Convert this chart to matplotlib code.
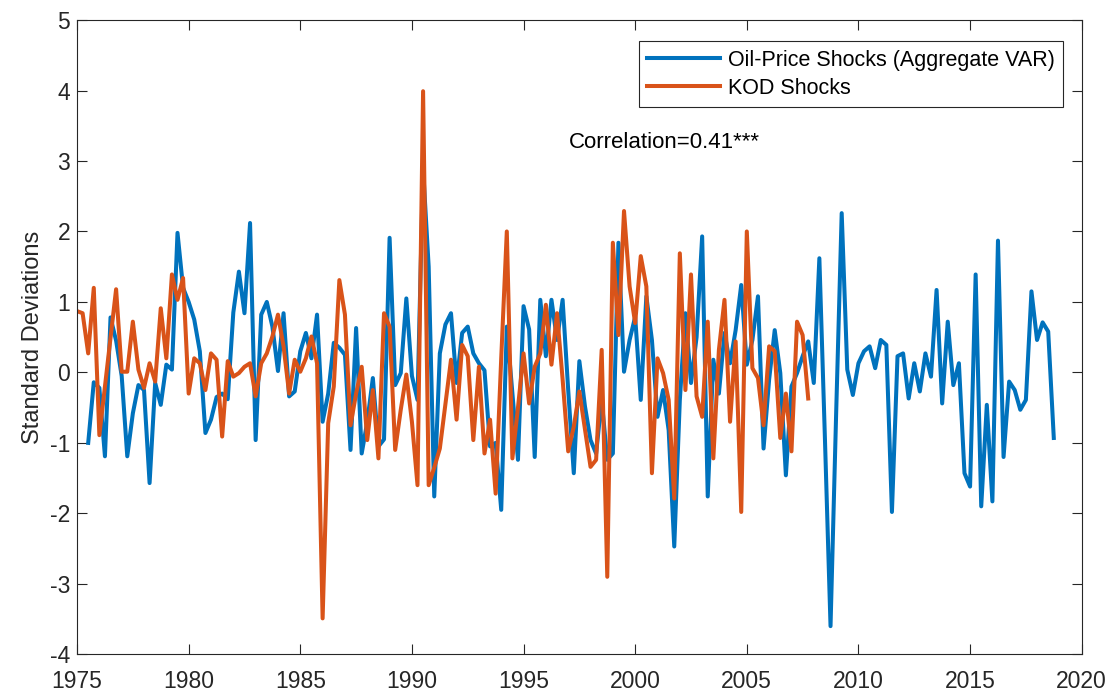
import numpy as np
import matplotlib
matplotlib.use("Agg")
import matplotlib.pyplot as plt

plt.rcParams['font.family'] = ['Liberation Sans', 'DejaVu Sans']
plt.rcParams['axes.unicode_minus'] = False

# quarterly series, oil-price shocks start 1975Q3, KOD shocks start 1975Q1
oil_start = 1975.5
oil = [-1.0, -0.14, -0.22, -1.19, 0.78, 0.45, -0.05, -1.19, -0.58, -0.18,
       -0.25, -1.57, -0.15, -0.46, 0.11, 0.04, 1.98, 1.2, 1.0, 0.75,
       0.3, -0.86, -0.67, -0.35, -0.3, -0.38, 0.85, 1.43, 0.84, 2.12,
       -0.96, 0.82, 1.0, 0.65, 0.02, 0.84, -0.34, -0.27, 0.3, 0.56,
       0.2, 0.82, -0.7, -0.3, 0.42, 0.35, 0.25, -1.1, 0.63, -1.15,
       -0.7, -0.08, -1.05, -0.95, 1.91, -0.18, -0.01, 1.05, -0.05, -0.39,
       2.9, 1.5, -1.76, 0.27, 0.68, 0.84, -0.15, 0.56, 0.65, 0.27,
       0.13, 0.03, -1.05, -1.0, -1.95, 0.65, -0.3, -1.24, 0.94, 0.61,
       -1.2, 1.03, 0.23, 1.03, 0.46, 1.03, -0.25, -1.43, 0.16, -0.48,
       -0.96, -1.15, -0.39, -1.24, -1.15, 1.84, 0.01, 0.46, 0.79, -0.39,
       1.08, 0.46, -0.63, -0.25, -0.82, -2.47, -0.39, 0.84, -0.15, 0.5,
       1.93, -1.76, 0.18, -0.3, 0.56, 0.13, 0.6, 1.24, 0.11, 0.46,
       1.08, -1.08, -0.1, 0.6, -0.01, -1.46, -0.2, -0.01, 0.23, 0.44,
       -0.15, 1.62, -0.95, -3.6, -0.6, 2.26, 0.04, -0.32, 0.13, 0.3,
       0.37, 0.06, 0.46, 0.39, -1.98, 0.23, 0.27, -0.37, 0.13, -0.27,
       0.27, -0.06, 1.17, -0.44, 0.72, -0.18, 0.13, -1.43, -1.62, 1.39,
       -1.9, -0.46, -1.83, 1.87, -1.2, -0.13, -0.25, -0.53, -0.39, 1.15,
       0.46, 0.71, 0.58, -0.93]

kod_start = 1975.0
kod = [0.87, 0.84, 0.27, 1.2, -0.89, -0.2, 0.5, 1.18, 0.01, 0.01,
       0.72, 0.04, -0.22, 0.13, -0.13, 0.91, 0.2, 1.39, 1.03, 1.34,
       -0.3, 0.2, 0.13, -0.25, 0.27, 0.18, -0.91, 0.16, -0.06, -0.01,
       0.08, 0.13, -0.34, 0.13, 0.27, 0.51, 0.82, 0.37, -0.3, 0.18,
       0.01, 0.2, 0.51, 0.13, -3.49, -0.72, -0.2, 1.31, 0.82, -0.75,
       -0.3, 0.08, -0.96, -0.25, -1.22, 0.84, 0.65, -1.1, -0.53, -0.03,
       -0.7, -1.6, 3.99, -1.6, -1.35, -1.08, -0.45, 0.18, -0.67, 0.39,
       0.23, -0.96, 0.08, -1.15, -0.67, -1.72, 0.2, 2.0, -1.22, -0.5,
       0.27, -0.44, 0.08, 0.27, 0.96, 0.11, 0.84, -0.1, -1.12, -0.77,
       -0.27, -0.8, -1.34, -1.24, 0.32, -2.9, 1.84, 0.53, 2.29, 1.22,
       0.7, 1.65, 1.22, -1.43, 0.2, -0.01, -0.39, -1.79, 1.69, -0.25,
       1.39, -0.34, -0.63, 0.72, -1.22, 0.32, 1.03, -0.7, 0.44, -1.98,
       2.0, 0.06, -0.08, -0.75, 0.37, 0.3, -0.93, -0.3, -1.12, 0.72,
       0.53, -0.37]

oil_t = oil_start + np.arange(len(oil)) / 4.0
kod_t = kod_start + np.arange(len(kod)) / 4.0

fig = plt.figure(figsize=(11.1, 6.93), dpi=100)
ax = fig.add_axes([0.0694, 0.0558, 0.9051, 0.9153])

ax.plot(oil_t, oil, color='#0072BD', lw=2.9, label='Oil-Price Shocks (Aggregate VAR)')
ax.plot(kod_t, kod, color='#D95319', lw=2.9, label='KOD Shocks')

ax.set_xlim(1975, 2020)
ax.set_ylim(-4, 5)
ax.set_xticks(np.arange(1975, 2021, 5))
ax.set_yticks(np.arange(-4, 6, 1))
ax.tick_params(direction='in', length=7, width=0.8, top=True, right=True,
               labelsize=16.5, colors='#262626')
ax.tick_params(axis='x', pad=11)
ax.tick_params(axis='y', pad=5)
for s in ax.spines.values():
    s.set_color('#262626')
    s.set_linewidth(0.8)

ax.set_ylabel('Standard Deviations', fontsize=17, color='#262626', labelpad=4)
ax.text(1997.05, 3.26, 'Correlation=0.41***', fontsize=16, color='black',
        ha='left', va='center')

leg = ax.legend(loc='upper right', bbox_to_anchor=(0.9814, 0.967), borderaxespad=0,
                fontsize=15.5, handlelength=3.35, handletextpad=0.37, fancybox=False,
                framealpha=1, edgecolor='#262626', borderpad=0.4, labelspacing=0.33)
leg.get_frame().set_linewidth(0.8)

fig.savefig('out.png', dpi=100)
